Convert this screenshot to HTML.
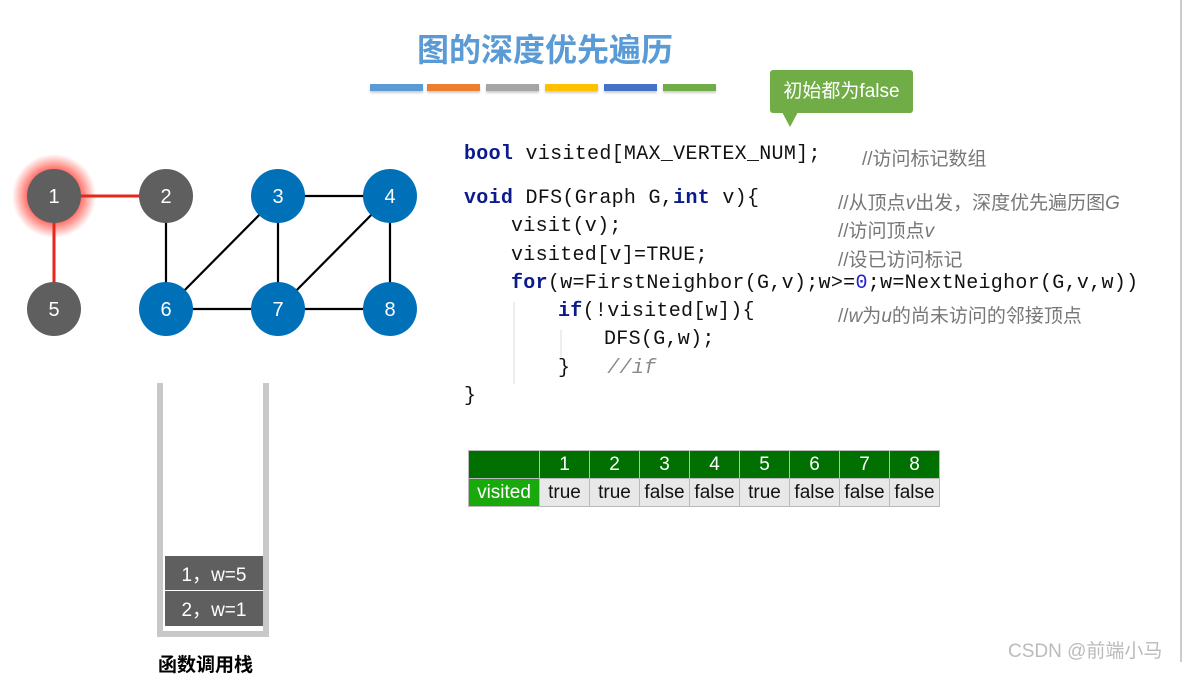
<!DOCTYPE html>
<html><head><meta charset="utf-8"><style>
body{margin:0;width:1186px;height:668px;overflow:hidden;background:#fff;position:relative;font-family:"Liberation Sans","Noto Sans CJK SC",sans-serif}
.a{position:absolute;white-space:pre}
.code{font-family:"Liberation Mono","Noto Sans CJK SC",monospace;font-size:20px;color:#111;letter-spacing:0.3px}
.k{color:#0b1a8c;font-weight:bold}
.c{font-family:"Liberation Sans","Noto Sans CJK SC",sans-serif;color:#777;font-size:19px}
.c i{font-style:italic}
.bar{position:absolute;top:84px;height:7px;width:53px;box-shadow:0 2px 2px rgba(0,0,0,.2)}
table{position:absolute;left:468px;top:450px;border-collapse:collapse;font-size:19px}
td{border:1px solid #bbb;height:27px;padding:0;text-align:center;width:49px}
</style></head><body>
<div class="a" style="left:0;width:1090px;top:26px;text-align:center;font-size:32px;font-weight:bold;color:#5b9bd5;font-family:'Noto Sans CJK SC',sans-serif;line-height:44px">图的深度优先遍历</div>
<div class="bar" style="left:370px;background:#5b9bd5"></div>
<div class="bar" style="left:427px;background:#ed7d31"></div>
<div class="bar" style="left:486px;background:#a5a5a5"></div>
<div class="bar" style="left:545px;background:#ffc000"></div>
<div class="bar" style="left:604px;background:#4472c4"></div>
<div class="bar" style="left:663px;background:#70ad47"></div>
<div class="a" style="left:1180px;top:0;width:2px;height:662px;background:#ccc"></div>
<div class="a" style="left:770px;top:70px;width:143px;height:43px;background:#70ad47;border-radius:3px;color:#fff;font-size:19px;line-height:43px;text-align:center">初始都为false</div>
<svg class="a" style="left:0;top:0" width="1186" height="668">
<polygon points="782,112 798,112 790,127" fill="#70ad47"/>
<defs><radialGradient id="g"><stop offset="0.6" stop-color="#ff3b30" stop-opacity=".8"/><stop offset="1" stop-color="#ff3b30" stop-opacity="0"/></radialGradient></defs>
<circle cx="54" cy="196" r="42" fill="url(#g)"/>
<g stroke="#000" stroke-width="2.2">
<line x1="166" y1="196" x2="166" y2="309"/><line x1="278" y1="196" x2="390" y2="196"/>
<line x1="278" y1="196" x2="166" y2="309"/><line x1="278" y1="196" x2="278" y2="309"/>
<line x1="390" y1="196" x2="278" y2="309"/><line x1="390" y1="196" x2="390" y2="309"/>
<line x1="166" y1="309" x2="390" y2="309"/></g>
<g stroke="#e8261c" stroke-width="3"><line x1="54" y1="196" x2="166" y2="196"/><line x1="54" y1="196" x2="54" y2="309"/></g>
<g font-size="20" fill="#fff" text-anchor="middle" font-family="Liberation Sans">
<ellipse cx="54" cy="196" rx="27" ry="27" fill="#5f5f5f"/><text x="54" y="203">1</text>
<ellipse cx="166" cy="196" rx="27" ry="27" fill="#5f5f5f"/><text x="166" y="203">2</text>
<ellipse cx="278" cy="196" rx="27" ry="27" fill="#0070b8"/><text x="278" y="203">3</text>
<ellipse cx="390" cy="196" rx="27" ry="27" fill="#0070b8"/><text x="390" y="203">4</text>
<ellipse cx="54" cy="309" rx="27" ry="27" fill="#5f5f5f"/><text x="54" y="316">5</text>
<ellipse cx="166" cy="309" rx="27" ry="27" fill="#0070b8"/><text x="166" y="316">6</text>
<ellipse cx="278" cy="309" rx="27" ry="27" fill="#0070b8"/><text x="278" y="316">7</text>
<ellipse cx="390" cy="309" rx="27" ry="27" fill="#0070b8"/><text x="390" y="316">8</text>
</g>
<rect x="157" y="383" width="6" height="254" fill="#c8c8c8"/>
<rect x="263" y="383" width="6" height="254" fill="#c8c8c8"/>
<rect x="157" y="631" width="112" height="6" fill="#c8c8c8"/>
<rect x="165" y="556" width="98" height="34" fill="#5f5f5f"/>
<rect x="165" y="591" width="98" height="35" fill="#5f5f5f"/>
<text x="214" y="581" fill="#fff" font-size="19" text-anchor="middle" font-family="Liberation Sans,Noto Sans CJK SC">1，w=5</text>
<text x="214" y="616" fill="#fff" font-size="19" text-anchor="middle" font-family="Liberation Sans,Noto Sans CJK SC">2，w=1</text>
<line x1="514" y1="302" x2="514" y2="384" stroke="#ddd"/>
<line x1="561" y1="330" x2="561" y2="357" stroke="#ddd"/>
</svg>
<div class="a" style="left:158px;top:650px;font-size:19px;font-weight:bold;font-family:'Noto Sans CJK SC',sans-serif">函数调用栈</div>
<div class="a code" style="left:464px;top:143px"><span class="k">bool</span> visited[MAX_VERTEX_NUM];</div>
<div class="a c" style="left:862px;top:144px">//访问标记数组</div>
<div class="a code" style="left:464px;top:187px"><span class="k">void</span> DFS(Graph G,<span class="k">int</span> v){</div>
<div class="a c" style="left:838px;top:188px">//从顶点<i>v</i>出发，深度优先遍历图<i>G</i></div>
<div class="a code" style="left:511px;top:215px">visit(v);</div>
<div class="a c" style="left:838px;top:216px">//访问顶点<i>v</i></div>
<div class="a code" style="left:511px;top:244px">visited[v]=TRUE;</div>
<div class="a c" style="left:838px;top:245px">//设已访问标记</div>
<div class="a code" style="left:511px;top:272px"><span class="k">for</span>(w=FirstNeighbor(G,v);w&gt;=<span style="color:#22c">0</span>;w=NextNeighor(G,v,w))</div>
<div class="a code" style="left:558px;top:300px"><span class="k">if</span>(!visited[w]){</div>
<div class="a c" style="left:838px;top:301px">//<i>w</i>为<i>u</i>的尚未访问的邻接顶点</div>
<div class="a code" style="left:604px;top:328px">DFS(G,w);</div>
<div class="a code" style="left:558px;top:357px">}   <i style="color:#888">//if</i></div>
<div class="a code" style="left:464px;top:385px">}</div>
<table>
<tr style="background:#007000;color:#fff"><td style="width:70px"></td><td>1</td><td>2</td><td>3</td><td>4</td><td>5</td><td>6</td><td>7</td><td>8</td></tr>
<tr style="background:#e8e8e8;color:#111"><td style="background:#1aa90d;color:#fff">visited</td><td>true</td><td>true</td><td>false</td><td>false</td><td>true</td><td>false</td><td>false</td><td>false</td></tr>
</table>
<div class="a" style="left:1008px;top:636px;font-size:19px;color:#bbb">CSDN @前端小马</div>
</body></html>
